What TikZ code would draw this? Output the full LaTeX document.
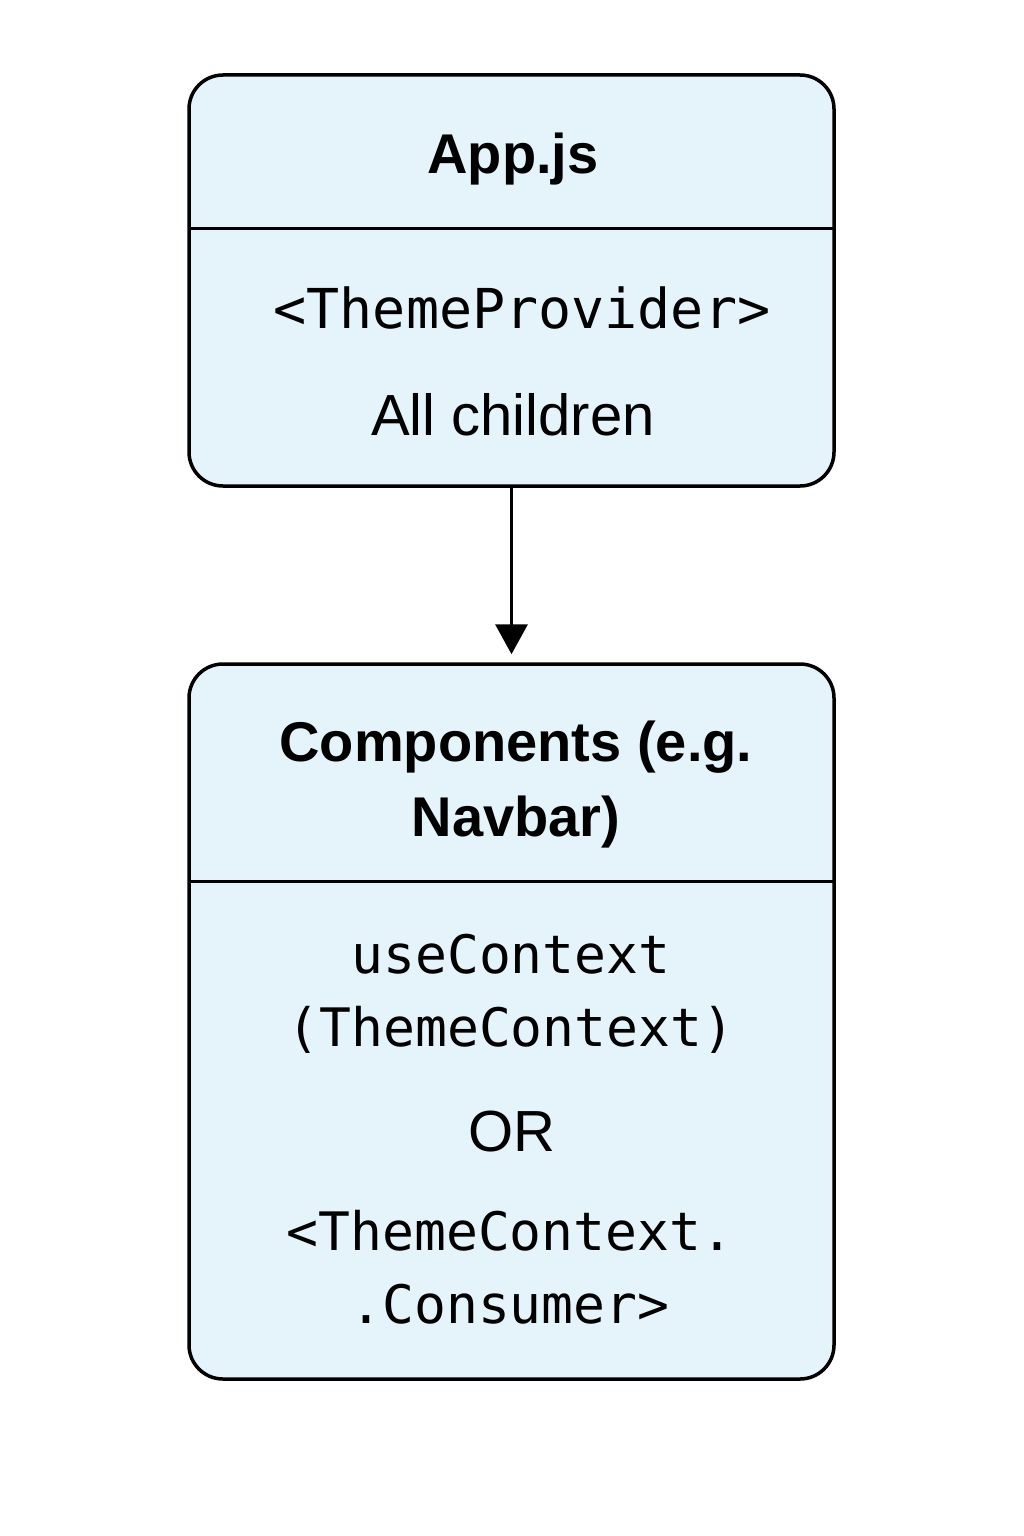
\documentclass[tikz,border=0pt]{standalone}
\usepackage{fontspec}
\setmainfont{Liberation Sans}
\newfontfamily\monof{DejaVu Sans Mono}
\usetikzlibrary{arrows.meta}
\definecolor{boxfill}{HTML}{E5F3FA}
\begin{document}
\begin{tikzpicture}[x=1pt,y=-1pt,
  panel/.style={draw=black,line width=3.5pt,fill=boxfill,rounded corners=34pt,minimum width=645pt,inner sep=0pt},
  titletext/.style={font=\fontsize{56}{75}\selectfont\bfseries,align=center,inner sep=0pt},
  codetext/.style={font=\monof\fontsize{53}{73}\selectfont,align=center,inner sep=0pt},
  bodytext/.style={font=\fontsize{58}{70}\selectfont,align=center,inner sep=0pt},
  divider/.style={line width=3pt},
  conn/.style={line width=3.5pt,shorten >=8pt,-{Triangle[length=30pt,width=32pt]}}]
\useasboundingbox (0,0) rectangle (1024,1536);
\node[panel,minimum height=411pt] (app) at (511.5,280.5) {};
\node[panel,minimum height=715pt] (comp) at (511.5,1021.5) {};
\coordinate (d1l) at (189,228);
\coordinate (d1r) at (834,228);
\coordinate (d2l) at (189,881);
\coordinate (d2r) at (834,881);
\draw[divider] (d1l) -- (d1r);
\draw[divider] (d2l) -- (d2r);
\node[titletext] (t1) at (513,159) {App.js};
\node[codetext,font=\monof\fontsize{55}{70}\selectfont] (c1) at (522,308) {<ThemeProvider>};
\node[bodytext] (b1) at (513,415) {All children};
\node[titletext] (t2) at (516,785) {Components (e.g.\\Navbar)};
\node[codetext] (c2) at (511,994) {useContext\\(ThemeContext)};
\node[bodytext] (b2) at (512,1132) {OR};
\node[codetext] (c3) at (510,1267) {<ThemeContext.\\.Consumer>};
\draw[conn] (app.south) -- (comp.north);
\end{tikzpicture}
\end{document}
